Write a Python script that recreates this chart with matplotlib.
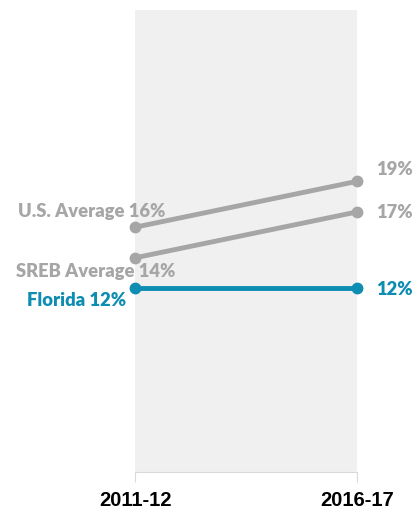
import matplotlib
matplotlib.use("Agg")
import matplotlib.pyplot as plt

# Data
years = ["2011-12", "2016-17"]
us_avg = [16, 19]
sreb_avg = [14, 17]
florida = [12, 12]

gray = "#a6a6a6"
blue = "#0e8db3"

fig = plt.figure(figsize=(4.15, 5.10), dpi=100)
ax = fig.add_axes([135 / 415, 37 / 510, 222 / 415, 462 / 510])
ax.set_facecolor("#f0f0f0")

x = [0, 1]
ax.plot(x, us_avg, color=gray, lw=3.5, marker="o", ms=7.5, clip_on=False, zorder=3)
ax.plot(x, sreb_avg, color=gray, lw=3.5, marker="o", ms=7.5, clip_on=False, zorder=3)
ax.plot(x, florida, color=blue, lw=3.5, marker="o", ms=7.5, clip_on=False, zorder=3)

ax.set_xlim(0, 1)
ax.set_ylim(0, 30.2)

for s in ["top", "left", "right"]:
    ax.spines[s].set_visible(False)
ax.spines["bottom"].set_color("#d9d9d9")
ax.set_yticks([])
ax.set_xticks(x)
ax.set_xticklabels(years, fontsize=14.5, fontweight="bold",
                   family="Liberation Sans")
ax.tick_params(axis="x", length=7, color="#d9d9d9", pad=6)

lab = dict(fontsize=13.2, fontweight="heavy", family="Lato", va="center")

# left labels (offsets in points from the first point)
ax.annotate(f"U.S. Average {us_avg[0]}%", (0, us_avg[0]), xytext=(-84, 12),
            textcoords="offset points", color=gray, annotation_clip=False, **lab)
ax.annotate(f"SREB Average {sreb_avg[0]}%", (0, sreb_avg[0]), xytext=(-86, -9),
            textcoords="offset points", color=gray, annotation_clip=False, **lab)
ax.annotate(f"Florida {florida[0]}%", (0, florida[0]), xytext=(-78, -8),
            textcoords="offset points", color=blue, annotation_clip=False, **lab)

# right labels
ax.annotate(f"{us_avg[1]}%", (1, us_avg[1]), xytext=(14, 9),
            textcoords="offset points", color=gray, annotation_clip=False, **lab)
ax.annotate(f"{sreb_avg[1]}%", (1, sreb_avg[1]), xytext=(14, 0),
            textcoords="offset points", color=gray, annotation_clip=False, **lab)
ax.annotate(f"{florida[1]}%", (1, florida[1]), xytext=(14, 0),
            textcoords="offset points", color=blue, annotation_clip=False, **lab)

fig.savefig("out.png", dpi=100)
